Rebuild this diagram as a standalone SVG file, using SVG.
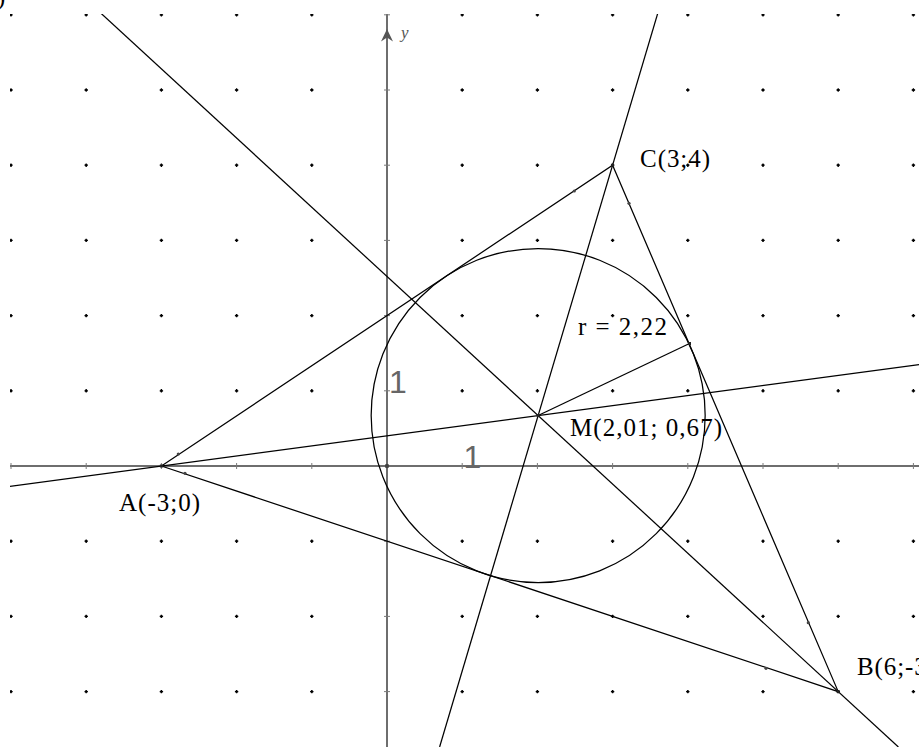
<svg xmlns="http://www.w3.org/2000/svg" xmlns:xlink="http://www.w3.org/1999/xlink" width="919" height="747" viewBox="0 0 919 747">
<style>
.ln{stroke:#000;stroke-width:1.25;fill:none}
.ax{stroke:#6e6e6e;stroke-width:2;fill:none}
.tk{stroke:#7a7a7a;stroke-width:1;fill:none}
.lbl{font-family:"Liberation Serif","Times New Roman",serif;font-size:25px;fill:#000}
.one{font-family:"Liberation Sans",Arial,sans-serif;font-size:32px;fill:#666}
.pt{fill:#222}
</style>
<defs>
<clipPath id="clip"><rect x="10" y="14" width="909" height="733"/></clipPath>
<g id="d"><path d="M-1.7,0H1.7M0,-1.7V1.7" stroke="#000" stroke-width="1.3"/><rect x="-1" y="-1" width="2" height="2" fill="#000"/></g>
<g id="dotrow">
<use href="#d" x="11"/><use href="#d" x="86.2"/><use href="#d" x="161.4"/><use href="#d" x="236.6"/><use href="#d" x="311.8"/><use href="#d" x="462.2"/><use href="#d" x="537.4"/><use href="#d" x="612.6"/><use href="#d" x="687.8"/><use href="#d" x="763"/><use href="#d" x="838.2"/><use href="#d" x="913.4"/>
</g>
<path id="p" d="M-1.5,-1.5h3v3h-3z"/>
</defs>
<g clip-path="url(#clip)">
<g id="grid">
<use href="#dotrow" y="14.8"/><use href="#dotrow" y="90"/><use href="#dotrow" y="165.2"/><use href="#dotrow" y="240.4"/><use href="#dotrow" y="315.6"/><use href="#dotrow" y="390.8"/><use href="#dotrow" y="541.2"/><use href="#dotrow" y="616.4"/><use href="#dotrow" y="691.6"/>
</g>
<g id="axes">
<line class="ax" x1="10" y1="466" x2="919" y2="466"/>
<line class="ax" x1="387" y1="747" x2="387" y2="14"/>
<path class="tk" d="M11,463v6M86.2,463v6M161.4,463v6M236.6,463v6M311.8,463v6M462.2,463v6M537.4,463v6M612.6,463v6M687.8,463v6M763,463v6M838.2,463v6M913.4,463v6"/>
<path class="tk" d="M384,14.8h6M384,90h6M384,165.2h6M384,240.4h6M384,315.6h6M384,390.8h6M384,541.2h6M384,616.4h6M384,691.6h6"/>
<polygon points="387,29 393,41.5 387,37.5 381,41.5" fill="#555"/>
<circle cx="387" cy="466" r="2.2" fill="#444"/>
</g>
<g id="connectors">
<line id="bisA" class="ln" x1="0" y1="487.62" x2="919" y2="364.53"/>
<line id="bisB" class="ln" x1="86.55" y1="0" x2="898.4" y2="747"/>
<line id="bisC" class="ln" x1="661.7" y1="0" x2="439.6" y2="747"/>
<polygon id="triangle" class="ln" points="161.4,466 838.2,691.6 612.6,165.2"/>
<line id="radius" class="ln" x1="538.17" y1="415.54" x2="689.5" y2="343.5"/>
</g>
<g id="incircle">
<circle class="ln" cx="538.17" cy="415.54" r="167" stroke="#111"/>
</g>
<g id="points">
<use href="#p" class="pt" x="161.4" y="466"/>
<use href="#p" class="pt" x="838.2" y="691.6"/>
<use href="#p" class="pt" x="612.6" y="165.2"/>
<use href="#p" class="pt" x="538.17" y="415.54"/>
<use href="#p" class="pt" x="689.5" y="343.5"/>
<circle cx="574.3" cy="191" r="1.6" fill="#444"/>
<circle cx="629" cy="203.3" r="1.6" fill="#444"/>
<circle cx="178.3" cy="454" r="1.6" fill="#444"/>
<circle cx="185" cy="473.3" r="1.6" fill="#444"/>
<circle cx="766" cy="668.3" r="1.6" fill="#444"/>
<circle cx="808.3" cy="622.7" r="1.6" fill="#444"/>
</g>
</g>
<g id="labels">
<text class="lbl" x="-3" y="5">)</text>
<text x="401" y="38" font-family="Liberation Serif,serif" font-style="italic" font-size="17" fill="#555">y</text>
<text class="one" x="389" y="393">1</text>
<text class="one" x="463.5" y="468">1</text>
<text id="lblC" class="lbl" x="640" y="167" textLength="70" lengthAdjust="spacing">C(3;4)</text>
<text id="lblA" class="lbl" x="119" y="511" textLength="81" lengthAdjust="spacing">A(-3;0)</text>
<text id="lblB" class="lbl" x="857" y="675" textLength="79" lengthAdjust="spacing">B(6;-3)</text>
<text id="lblM" class="lbl" x="570" y="436" textLength="152" lengthAdjust="spacing">M(2,01; 0,67)</text>
<text id="lblR" class="lbl" x="578" y="335" font-size="22" textLength="89" lengthAdjust="spacing">r = 2,22</text>
</g>
</svg>
